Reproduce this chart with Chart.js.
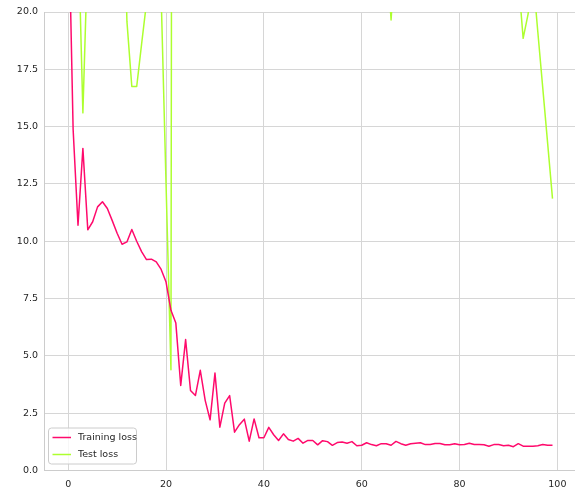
<!DOCTYPE html>
<html>
<head>
<meta charset="utf-8">
<script src="https://cdn.jsdelivr.net/npm/chart.js@4.4.1/dist/chart.umd.min.js"></script>
<style>
  html, body { margin: 0; padding: 0; background: #ffffff; }
  #wrap { width: 575px; height: 488px; }
</style>
</head>
<body>
<div id="wrap"><canvas id="c" width="575" height="488"></canvas></div>
<script>
// ---- data ----
const epochs = [0,1,2,3,4,5,6,7,8,9,10,11,12,13,14,15,16,17,18,19,
  20,21,22,23,24,25,26,27,28,29,30,31,32,33,34,35,36,37,38,39,
  40,41,42,43,44,45,46,47,48,49,50,51,52,53,54,55,56,57,58,59,
  60,61,62,63,64,65,66,67,68,69,70,71,72,73,74,75,76,77,78,79,
  80,81,82,83,84,85,86,87,88,89,90,91,92,93,94,95,96,97,98,99];

const trainLoss = [25.2,14.9,10.7,14.05,10.5,10.85,11.5,11.72,11.43,10.9,
  10.35,9.87,9.97,10.51,10.0,9.55,9.2,9.22,9.1,8.77,
  8.22,6.99,6.43,3.71,5.71,3.49,3.27,4.37,3.06,2.21,
  4.25,1.89,2.94,3.27,1.67,2.0,2.24,1.28,2.25,1.43,
  1.43,1.88,1.56,1.31,1.6,1.35,1.28,1.40,1.19,1.31,
  1.31,1.12,1.30,1.26,1.10,1.22,1.24,1.19,1.26,1.08,
  1.10,1.21,1.13,1.08,1.17,1.17,1.10,1.27,1.17,1.10,
  1.17,1.19,1.21,1.13,1.13,1.18,1.18,1.12,1.12,1.17,
  1.12,1.13,1.19,1.13,1.13,1.12,1.06,1.13,1.13,1.08,
  1.10,1.04,1.17,1.06,1.06,1.06,1.08,1.13,1.10,1.10];

// values above 20 are outside the visible range (estimated)
const testLoss = [40,35,23.9,15.6,22.8,30,34,32,36,33,
  30,28,19.6,16.75,16.75,18.6,20.4,24,28,20.7,
  12.5,4.4,157,60,45,40,38,36,35,34,
  33,32,31,30,30,29,29,28,28,27,
  27,27,26,26,26,25,25,25,25,24,
  24,24,24,24,23,23,23,23,23,23,
  23,23,23,23,23,23,19.65,23,24,25,
  26,26,27,27,26,26,25,25,24,24,
  24,24,24,23,23,23,23,23,23,23,
  23,23,21.5,18.85,19.9,21.6,19.13,16.71,14.29,11.86];

const xTicks = [0, 20, 40, 60, 80, 100];
const yTicks = [0, 2.5, 5, 7.5, 10, 12.5, 15, 17.5, 20];
const seriesNames = ['Training loss', 'Test loss'];
const seriesColors = ['#ff0a6c', '#adff2f'];

// ---- chart ----
const FONT = '"DejaVu Sans", sans-serif';
const TEXT = '#262626';
const GRID = '#d6d6d6';
const SPINE = '#cccccc';

const legendPlugin = {
  id: 'insideLegend',
  afterDatasetsDraw(chart) {
    const ctx = chart.ctx;
    const area = chart.chartArea;
    const x0 = area.left + 4.5, y0 = area.bottom - 42.5, w = 88, h = 36, r = 3;
    ctx.save();
    ctx.beginPath();
    ctx.moveTo(x0 + r, y0);
    ctx.lineTo(x0 + w - r, y0);
    ctx.arcTo(x0 + w, y0, x0 + w, y0 + r, r);
    ctx.lineTo(x0 + w, y0 + h - r);
    ctx.arcTo(x0 + w, y0 + h, x0 + w - r, y0 + h, r);
    ctx.lineTo(x0 + r, y0 + h);
    ctx.arcTo(x0, y0 + h, x0, y0 + h - r, r);
    ctx.lineTo(x0, y0 + r);
    ctx.arcTo(x0, y0, x0 + r, y0, r);
    ctx.closePath();
    ctx.fillStyle = 'rgba(255,255,255,0.8)';
    ctx.fill();
    ctx.strokeStyle = SPINE;
    ctx.lineWidth = 1;
    ctx.stroke();
    chart.data.datasets.forEach((ds, i) => {
      const yy = y0 + 9.5 + i * 17;
      ctx.beginPath();
      ctx.moveTo(x0 + 4, yy);
      ctx.lineTo(x0 + 22.5, yy);
      ctx.strokeStyle = ds.borderColor;
      ctx.lineWidth = 1.5;
      ctx.stroke();
      ctx.fillStyle = TEXT;
      ctx.font = '9.5px ' + FONT;
      ctx.textBaseline = 'middle';
      ctx.textAlign = 'left';
      ctx.fillText(ds.label, x0 + 29.5, yy + 0.5);
    });
    ctx.restore();
  }
};

new Chart(document.getElementById('c'), {
  type: 'line',
  data: {
    datasets: [
      {
        label: seriesNames[0],
        data: epochs.map((e, i) => ({ x: e, y: trainLoss[i] })),
        borderColor: seriesColors[0],
        borderWidth: 1.5,
        pointRadius: 0,
        tension: 0,
        fill: false,
        borderJoinStyle: 'round'
      },
      {
        label: seriesNames[1],
        data: epochs.map((e, i) => ({ x: e, y: testLoss[i] })),
        borderColor: seriesColors[1],
        borderWidth: 1.5,
        pointRadius: 0,
        tension: 0,
        fill: false,
        borderJoinStyle: 'round'
      }
    ]
  },
  options: {
    responsive: false,
    devicePixelRatio: 1,
    animation: false,
    layout: { padding: { top: 12, right: 0, left: 0, bottom: 0 } },
    plugins: {
      legend: { display: false },
      tooltip: { enabled: false }
    },
    scales: {
      x: {
        type: 'linear',
        min: -4.95,
        max: 103.6,
        afterBuildTicks(scale) { scale.ticks = xTicks.map(v => ({ value: v })); },
        afterFit(scale) { scale.height = 17.5; },
        grid: { color: GRID, lineWidth: 1, drawTicks: false },
        border: { display: true, color: SPINE, width: 1 },
        ticks: {
          color: TEXT,
          font: { family: FONT, size: 9.5 },
          padding: 8,
          maxRotation: 0,
          callback: v => String(v)
        }
      },
      y: {
        type: 'linear',
        min: 0,
        max: 20,
        afterBuildTicks(scale) { scale.ticks = yTicks.map(v => ({ value: v })); },
        afterFit(scale) { scale.width = 44; },
        grid: { color: GRID, lineWidth: 1, drawTicks: false },
        border: { display: true, color: SPINE, width: 1 },
        ticks: {
          color: TEXT,
          font: { family: FONT, size: 9.5 },
          padding: 6,
          callback: v => Number(v).toFixed(1)
        }
      }
    }
  },
  plugins: [legendPlugin]
});
</script>
</body>
</html>
